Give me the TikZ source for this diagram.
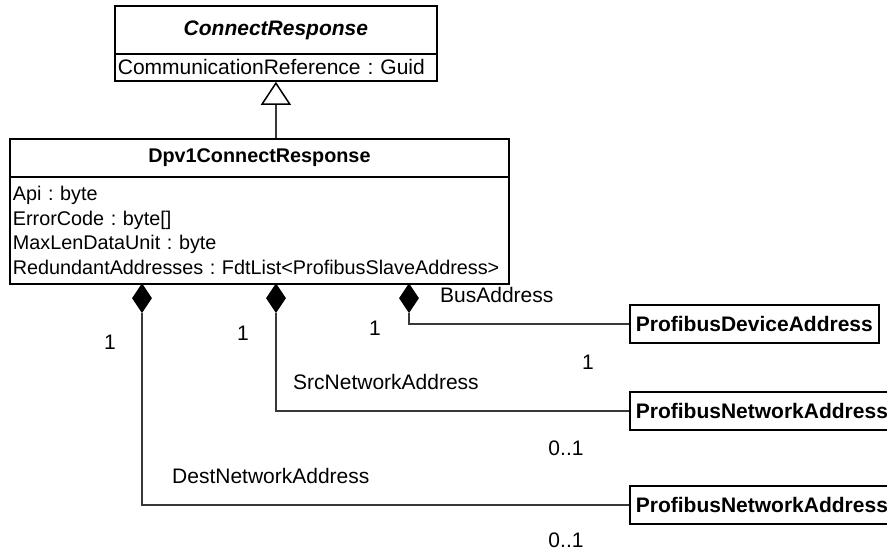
\documentclass[tikz,border=0pt]{standalone}
\usepackage{fontspec}
\setmainfont{Liberation Sans}
\usetikzlibrary{arrows.meta,shapes.geometric}

\newcommand{\bigtext}{\fontsize{21}{25}\selectfont\frenchspacing}
\newcommand{\smalltext}{\fontsize{19.8}{24.6}\selectfont\frenchspacing}

\begin{document}
\begin{tikzpicture}[x=1pt,y=-1pt,
  font=\bigtext,
  box/.style={draw=black, line width=1.8pt, fill=white, inner xsep=3pt, inner ysep=0pt},
  titlebox/.style={box, align=center},
  attrbox/.style={box, align=left},
  refbox/.style={box, font=\bigtext\bfseries, inner xsep=6pt, minimum height=38pt, anchor=west},
  comp/.style={diamond, fill=black, draw=none, minimum width=20pt, minimum height=30pt, inner sep=0pt, anchor=north},
  link/.style={draw=black!78, line width=1.3pt},
  lbl/.style={inner sep=0pt}]

\clip (0,0) rectangle (887,551);
\fill[white] (0,0) rectangle (887,551);

% abstract base class
\node[titlebox, anchor=north west, text width=316pt, minimum height=48pt,
      font=\bigtext\bfseries\itshape] (crt) at (114,5) {ConnectResponse};
\node[attrbox, anchor=north west, text width=316pt, minimum height=27pt] (cra) at (114,53)
  {CommunicationReference : Guid};

% derived class
\node[titlebox, anchor=north west, text width=493pt, minimum height=38pt,
      font=\smalltext\bfseries] (dpt) at (9,138) {Dpv1ConnectResponse};
\node[attrbox, anchor=north west, text width=493pt, minimum height=107pt,
      font=\smalltext] (dpa) at (9,176)
  {Api : byte\\ErrorCode : byte[]\\MaxLenDataUnit : byte\\RedundantAddresses : FdtList<ProfibusSlaveAddress>};

% generalization
\draw[link, -{Triangle[open, length=23pt, width=30pt, line width=1.5pt, color=black, fill=white]}]
  (dpt.north -| cra.south) -- (cra.south);

% composition ends
\node[comp] (d1) at (142,283) {};
\node[comp] (d2) at (276,283) {};
\node[comp] (d3) at (409,283) {};

% referenced classes
\node[refbox] (pda) at (629,324) {ProfibusDeviceAddress};
\node[refbox] (pns) at (629,411) {ProfibusNetworkAddress};
\node[refbox] (pnd) at (629,505) {ProfibusNetworkAddress};

% associations
\draw[link] (d3.south) |- (pda.west);
\draw[link] (d2.south) |- (pns.west);
\draw[link] (d1.south) |- (pnd.west);

% role names and multiplicities
\node[lbl, anchor=west] (rbus) at (440,295) {BusAddress};
\node[lbl, anchor=west] (rsrc) at (293,382) {SrcNetworkAddress};
\node[lbl, anchor=west] (rdst) at (172,476) {DestNetworkAddress};

\node[lbl] (m1) at (110,342) {1};
\node[lbl] (m2) at (243,333) {1};
\node[lbl] (m3) at (375,328) {1};
\node[lbl] (m4) at (588,362) {1};
\node[lbl] (m5) at (566,448) {0..1};
\node[lbl] (m6) at (566,540) {0..1};

\end{tikzpicture}
\end{document}
